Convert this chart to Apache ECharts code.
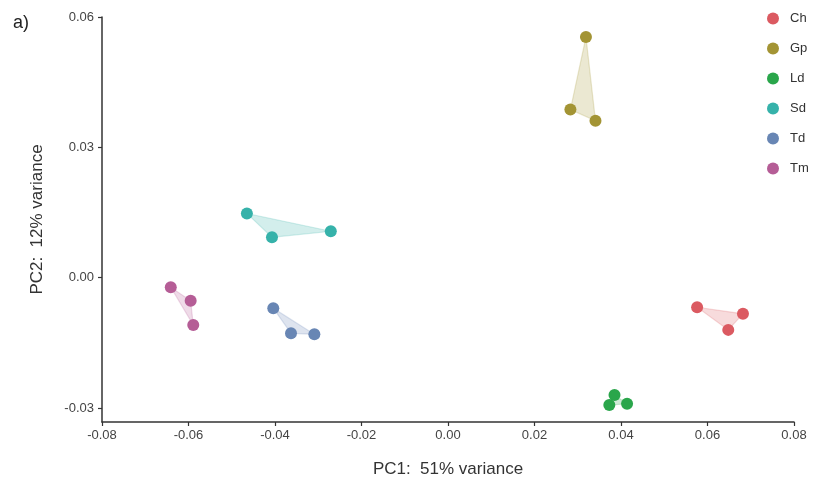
<!DOCTYPE html>
<html>
<head>
<meta charset="utf-8">
<script src="https://cdn.jsdelivr.net/npm/echarts@6/dist/echarts.min.js"></script>
<style>
  html, body { margin: 0; padding: 0; background: #fff; }
  #main { width: 816px; height: 484px; }
</style>
</head>
<body>
<div id="main"></div>
<script>
// groups and their PCA coordinates
const groups = ['Ch', 'Gp', 'Ld', 'Sd', 'Td', 'Tm'];
const colors = ['#db5a61', '#a39434', '#2aa64b', '#36b2aa', '#6886b4', '#b55d96'];

const chPts = [[0.0576, -0.0068], [0.0682, -0.0083], [0.0648, -0.0120]];
const gpPts = [[0.0319, 0.0554], [0.0283, 0.0387], [0.0341, 0.0361]];
const ldPts = [[0.0385, -0.0270], [0.0373, -0.0293], [0.0414, -0.0290]];
const sdPts = [[-0.0465, 0.0148], [-0.0407, 0.0093], [-0.0271, 0.0107]];
const tdPts = [[-0.0404, -0.0070], [-0.0363, -0.0128], [-0.0309, -0.0130]];
const tmPts = [[-0.0641, -0.0022], [-0.0595, -0.0053], [-0.0589, -0.0109]];
const groupPts = [chPts, gpPts, ldPts, sdPts, tdPts, tmPts];

const yTicks = [-0.03, 0, 0.03, 0.06];

const chart = echarts.init(document.getElementById('main'));

const hullSeries = groups.map((g, i) => ({
  name: g,
  type: 'custom',
  z: 1,
  silent: true,
  data: groupPts[i],
  renderItem: (params, api) => {
    if (params.dataIndex !== 0) return;
    const pts = groupPts[i].map(p => api.coord(p));
    return {
      type: 'polygon',
      shape: { points: pts },
      style: {
        fill: colors[i],
        opacity: 0.22,
        stroke: colors[i],
        lineWidth: 1.2
      }
    };
  }
}));

const pointSeries = groups.map((g, i) => ({
  name: g,
  type: 'scatter',
  z: 3,
  symbolSize: 12,
  data: groupPts[i],
  itemStyle: { color: colors[i], opacity: 1 }
}));

const option = {
  backgroundColor: '#fff',
  textStyle: { fontFamily: 'Liberation Sans, Arial, sans-serif' },
  title: {
    text: 'a)',
    left: 8,
    top: 9,
    textStyle: { fontSize: 18, fontWeight: 'normal', color: '#222' }
  },
  legend: {
    data: groups.map((g, i) => ({ name: g, itemStyle: { color: colors[i] } })),
    orient: 'vertical',
    left: 762,
    top: 7,
    icon: 'circle',
    itemWidth: 12,
    itemHeight: 12,
    itemGap: 17,
    textStyle: { fontSize: 13, color: '#333', padding: [0, 0, 0, 6] }
  },
  grid: { left: 102, right: 22, top: 17, bottom: 62 },
  xAxis: {
    type: 'value',
    min: -0.08,
    max: 0.08,
    interval: 0.02,
    name: 'PC1:  51% variance',
    nameLocation: 'middle',
    nameGap: 39,
    nameTextStyle: { fontSize: 17, color: '#333' },
    axisLine: { show: true, onZero: false, lineStyle: { color: '#333', width: 1.5 } },
    axisTick: { show: true, length: 4, lineStyle: { color: '#333', width: 1.2 } },
    axisLabel: { fontSize: 13, color: '#444', margin: 7, formatter: v => v.toFixed(2) },
    splitLine: { show: false }
  },
  yAxis: {
    type: 'value',
    min: -0.0332,
    max: 0.06,
    name: 'PC2:  12% variance',
    nameLocation: 'middle',
    nameGap: 56,
    nameTextStyle: { fontSize: 17, color: '#333' },
    axisLine: { show: true, onZero: false, lineStyle: { color: '#333', width: 1.5 } },
    axisTick: { show: true, length: 4, customValues: yTicks, lineStyle: { color: '#333', width: 1.2 } },
    axisLabel: { fontSize: 13, color: '#444', margin: 8, customValues: yTicks, formatter: v => v.toFixed(2) },
    splitLine: { show: false }
  },
  series: [...hullSeries, ...pointSeries]
};

chart.setOption(option);
</script>
</body>
</html>
